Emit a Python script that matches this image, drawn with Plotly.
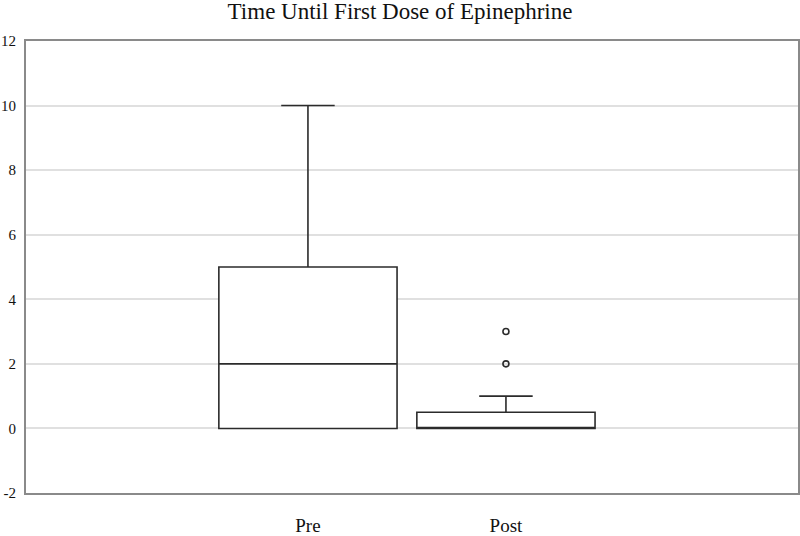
import plotly.graph_objects as go

# --- Data ---
groups = ["Pre", "Post"]
lower_fence = [0, 0]
q1 = [0, 0]
median = [2, 0]
q3 = [5, 0.5]
upper_fence = [10, 1]

outlier_group = ["Post", "Post"]
outlier_values = [2, 3]

y_ticks = [-2, 0, 2, 4, 6, 8, 10, 12]
y_tick_text = ["-2", "0", "2", "4", "6", "8", "10", "12"]

LINE = "#2b2b2b"
FONT = "Liberation Serif, Times New Roman, serif"

fig = go.Figure()

fig.add_trace(go.Box(
    x=groups,
    lowerfence=lower_fence,
    q1=q1,
    median=median,
    q3=q3,
    upperfence=upper_fence,
    width=0.9,
    whiskerwidth=0.3,
    fillcolor="white",
    line=dict(color=LINE, width=1.6),
    boxpoints=False,
    showlegend=False,
    hoverinfo="skip",
))

fig.add_trace(go.Scatter(
    x=outlier_group,
    y=outlier_values,
    mode="markers",
    marker=dict(symbol="circle-open", size=6, color=LINE, line=dict(width=1.6)),
    showlegend=False,
    hoverinfo="skip",
))

fig.update_layout(
    width=800,
    height=536,
    margin=dict(l=26, r=2, t=41, b=43, autoexpand=False),
    paper_bgcolor="white",
    plot_bgcolor="white",
    font=dict(family=FONT, color="#111111"),
    title=dict(
        text="Time Until First Dose of Epinephrine",
        x=0.5, xanchor="center",
        y=0.979, yanchor="middle",
        font=dict(family=FONT, size=23, color="#111111"),
    ),
)

fig.update_xaxes(
    type="category",
    categoryorder="array",
    categoryarray=groups,
    range=[-1.424, 2.475],
    automargin=False,
    showgrid=False,
    showline=True,
    linecolor="#8a8a8a",
    linewidth=2,
    mirror=True,
    ticks="",
    ticklabelstandoff=14,
    tickfont=dict(family=FONT, size=19, color="#111111"),
)

fig.update_yaxes(
    range=[-2, 12],
    tickvals=y_ticks,
    ticktext=y_tick_text,
    automargin=False,
    showgrid=True,
    gridcolor="#e0e0e0",
    gridwidth=1.5,
    zeroline=False,
    showline=True,
    linecolor="#8a8a8a",
    linewidth=2,
    mirror=True,
    ticks="",
    ticklabelstandoff=5,
    tickfont=dict(family=FONT, size=15, color="#111111"),
)

# page has a default body margin, drop it so the figure sits at 0,0
fig.write_html(
    "out.html",
    config={"displayModeBar": False},
    post_script="document.body.style.margin='0';",
)
